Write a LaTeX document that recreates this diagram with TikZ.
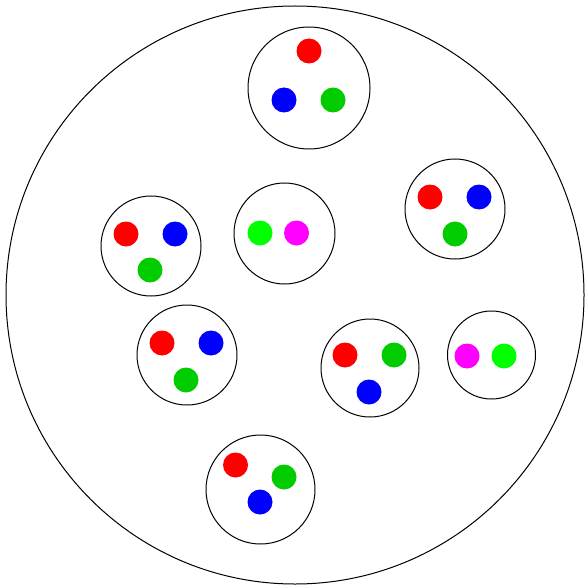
\documentclass[tikz,border=0pt]{standalone}
\definecolor{cred}{RGB}{255,0,0}
\definecolor{cblue}{RGB}{0,0,255}
\definecolor{cgreen}{RGB}{0,204,0}
\definecolor{lgreen}{RGB}{0,255,0}
\definecolor{cmag}{RGB}{255,0,255}
\begin{document}
\begin{tikzpicture}[x=1pt,y=-1pt,
  ring/.style={draw=black,line width=1pt},
  dot/.style={circle,inner sep=0pt,minimum size=25pt,fill=#1,draw=none}]
\useasboundingbox (0,0) rectangle (584,588);
\draw[ring] (295,295) circle (289);
% top
\draw[ring] (309,88) circle (61);
\node[dot=cred] (a1) at (309,51) {};
\node[dot=cblue] (a2) at (284,100) {};
\node[dot=cgreen] (a3) at (333,100) {};
% right upper
\draw[ring] (455,209) circle (50);
\node[dot=cred] (b1) at (430,197) {};
\node[dot=cblue] (b2) at (479,197) {};
\node[dot=cgreen] (b3) at (455,234) {};
% middle
\draw[ring] (284.5,233.5) circle (50.5);
\node[dot=lgreen] (c1) at (260,233) {};
\node[dot=cmag] (c2) at (296.5,233) {};
% left
\draw[ring] (151,246) circle (50);
\node[dot=cred] (d1) at (126,234) {};
\node[dot=cblue] (d2) at (175,234) {};
\node[dot=cgreen] (d3) at (150,270) {};
% left lower
\draw[ring] (187,355) circle (50);
\node[dot=cred] (e1) at (162,343) {};
\node[dot=cblue] (e2) at (211,343) {};
\node[dot=cgreen] (e3) at (186,380) {};
% center lower
\draw[ring] (370,368) circle (49);
\node[dot=cred] (f1) at (345,355) {};
\node[dot=cgreen] (f2) at (394,355) {};
\node[dot=cblue] (f3) at (369,392) {};
% right
\draw[ring] (491.5,355) circle (44);
\node[dot=cmag] (g1) at (467,356) {};
\node[dot=lgreen] (g2) at (504,356) {};
% bottom
\draw[ring] (260.5,489.5) circle (54.5);
\node[dot=cred] (h1) at (235.5,465) {};
\node[dot=cgreen] (h2) at (284,477) {};
\node[dot=cblue] (h3) at (260,502) {};
\end{tikzpicture}
\end{document}
